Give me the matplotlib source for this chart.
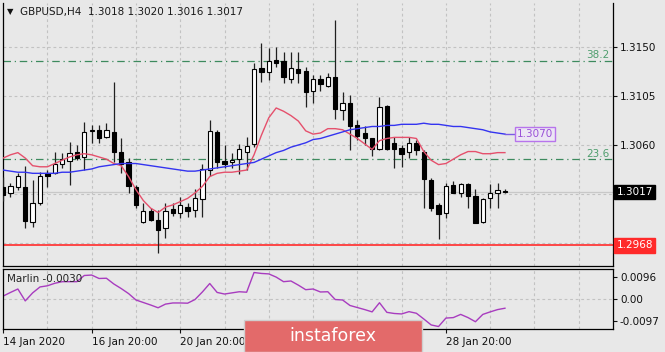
import matplotlib
matplotlib.use("Agg")
import matplotlib.pyplot as plt
import matplotlib.transforms as mtransforms
from matplotlib.patches import Rectangle

# GBPUSD H4 candles
opens = [1.3021, 1.3016, 1.3021, 1.3021, 1.2989, 1.3007, 1.3034, 1.3034, 1.3043, 1.3045,
         1.3054, 1.3049, 1.3073, 1.3074, 1.3067, 1.3072, 1.3054, 1.3044, 1.3021, 1.2989,
         1.2999, 1.2991, 1.2984, 1.3001, 1.2998, 1.3003, 1.3000, 1.3010, 1.3037, 1.3072,
         1.3045, 1.3044, 1.3047, 1.3054, 1.3061, 1.3131, 1.3127, 1.3138, 1.3137, 1.3121,
         1.3130, 1.3128, 1.3110, 1.3121, 1.3114, 1.3122, 1.3092, 1.3099, 1.3078, 1.3071,
         1.3066, 1.3056, 1.3096, 1.3062, 1.3057, 1.3054, 1.3062, 1.3054, 1.3028, 1.3005,
         1.2998, 1.3023, 1.3016, 1.3024, 1.3013, 1.2989, 1.3011, 1.3016, 1.3018]
highs = [1.3031, 1.3025, 1.3034, 1.3041, 1.3028, 1.3035, 1.3037, 1.3054, 1.3053, 1.3063,
         1.3060, 1.3081, 1.3078, 1.3078, 1.3080, 1.3118, 1.3066, 1.3048, 1.3023, 1.3007,
         1.3002, 1.3000, 1.3007, 1.3007, 1.3012, 1.3007, 1.3020, 1.3043, 1.3083, 1.3074,
         1.3060, 1.3053, 1.3061, 1.3067, 1.3135, 1.3154, 1.3149, 1.3150, 1.3145, 1.3145,
         1.3145, 1.3132, 1.3124, 1.3124, 1.3126, 1.3175, 1.3109, 1.3106, 1.3083, 1.3077,
         1.3066, 1.3104, 1.3097, 1.3067, 1.3060, 1.3067, 1.3065, 1.3055, 1.3030, 1.3007,
         1.3025, 1.3027, 1.3025, 1.3025, 1.3020, 1.3011, 1.3024, 1.3025, 1.3020]
lows = [1.3009, 1.3012, 1.3019, 1.2984, 1.2985, 1.3005, 1.3021, 1.3033, 1.3039, 1.3023,
        1.3046, 1.3037, 1.3062, 1.3062, 1.3066, 1.3044, 1.3034, 1.3016, 1.3002, 1.2988,
        1.2990, 1.2961, 1.2975, 1.2995, 1.2993, 1.2994, 1.2994, 1.2994, 1.3032, 1.3039,
        1.3039, 1.3039, 1.3033, 1.3037, 1.3058, 1.3118, 1.3120, 1.3132, 1.3117, 1.3117,
        1.3117, 1.3095, 1.3099, 1.3110, 1.3113, 1.3084, 1.3083, 1.3055, 1.3065, 1.3060,
        1.3050, 1.3055, 1.3055, 1.3039, 1.3040, 1.3048, 1.3051, 1.3002, 1.2999, 1.2974,
        1.2993, 1.3016, 1.3012, 1.3002, 1.2988, 1.2988, 1.3002, 1.3002, 1.3016]
closes = [1.3014, 1.3022, 1.3032, 1.2990, 1.3007, 1.3032, 1.3032, 1.3043, 1.3047, 1.3053,
          1.3048, 1.3072, 1.3074, 1.3066, 1.3074, 1.3054, 1.3043, 1.3022, 1.3005, 1.2999,
          1.2991, 1.2982, 1.2999, 1.2998, 1.3005, 1.2999, 1.3011, 1.3038, 1.3073, 1.3044,
          1.3043, 1.3046, 1.3056, 1.3059, 1.3130, 1.3127, 1.3137, 1.3135, 1.3122, 1.3131,
          1.3126, 1.3109, 1.3121, 1.3116, 1.3122, 1.3093, 1.3099, 1.3077, 1.3068, 1.3066,
          1.3056, 1.3095, 1.3056, 1.3056, 1.3052, 1.3062, 1.3055, 1.3029, 1.3002, 1.2997,
          1.3022, 1.3016, 1.3024, 1.3013, 1.2988, 1.3010, 1.3016, 1.3019, 1.3017]

# moving averages
ma_red = [1.3048, 1.3051, 1.3053, 1.3048, 1.3041, 1.3040, 1.3040, 1.3043, 1.3046, 1.3049,
          1.3051, 1.3052, 1.3051, 1.3049, 1.3047, 1.3043, 1.3041, 1.3031, 1.3019, 1.3009,
          1.3002, 1.2998, 1.3003, 1.3005, 1.3008, 1.3011, 1.3016, 1.3022, 1.3031, 1.3034,
          1.3035, 1.3035, 1.3036, 1.3037, 1.3051, 1.3069, 1.3085, 1.3094, 1.3091, 1.3087,
          1.3082, 1.3073, 1.3070, 1.3071, 1.3075, 1.3075, 1.3074, 1.3070, 1.3066, 1.3061,
          1.3056, 1.3064, 1.3066, 1.3067, 1.3067, 1.3067, 1.3066, 1.3054, 1.3046, 1.3042,
          1.3043, 1.3047, 1.3051, 1.3054, 1.3054, 1.3052, 1.3052, 1.3053, 1.3053]
ma_blue = [1.3037, 1.3036, 1.3035, 1.3035, 1.3034, 1.3034, 1.3034, 1.3034, 1.3035, 1.3035,
           1.3036, 1.3037, 1.3038, 1.3040, 1.3041, 1.3042, 1.3043, 1.3043, 1.3043, 1.3042,
           1.3041, 1.3040, 1.3039, 1.3038, 1.3037, 1.3036, 1.3036, 1.3037, 1.3038, 1.3039,
           1.3040, 1.3041, 1.3042, 1.3043, 1.3044, 1.3047, 1.3050, 1.3053, 1.3055, 1.3058,
           1.3060, 1.3062, 1.3065, 1.3066, 1.3068, 1.3070, 1.3072, 1.3074, 1.3075, 1.3076,
           1.3077, 1.3077, 1.3078, 1.3078, 1.3079, 1.3079, 1.3079, 1.3080, 1.3079, 1.3079,
           1.3078, 1.3077, 1.3077, 1.3076, 1.3075, 1.3074, 1.3072, 1.3071, 1.3070]

# Marlin oscillator
marlin = [0.0014, 0.0030, 0.0045, -0.0007, 0.0028, 0.0054, 0.0059, 0.0070, 0.0077, 0.0077,
          0.0077, 0.0104, 0.0106, 0.0091, 0.0092, 0.0067, 0.0047, 0.0025, -0.0003, -0.0014,
          -0.0025, -0.0037, -0.0021, -0.0016, -0.0016, -0.0017, -0.0001, 0.0032, 0.0069, 0.0030,
          0.0023, 0.0028, 0.0033, 0.0031, 0.0117, 0.0113, 0.0111, 0.0097, 0.0077, 0.0080,
          0.0062, 0.0042, 0.0045, 0.0032, 0.0033, -0.0001, -0.0003, -0.0027, -0.0036, -0.0045,
          -0.0055, -0.0015, -0.0057, -0.0062, -0.0064, -0.0054, -0.0061, -0.0086, -0.0112, -0.0119,
          -0.0082, -0.0080, -0.0066, -0.0080, -0.0098, -0.0066, -0.0055, -0.0045, -0.0039]

date_ticks = [0, 12, 24, 60]
date_labels = ['14 Jan 2020', '16 Jan 20:00', '20 Jan 20:00', '28 Jan 20:00']
price_ticks = [1.3150, 1.3105, 1.3060]
grid_prices = [1.3150, 1.3105, 1.3060, 1.3015, 1.2970]
marlin_ticks = [0.0096, 0.0, -0.0097]
marlin_labels = ['0.0096', '0.00', '-0.0097']
fib_levels = [1.3137, 1.3047]
fib_names = ['38.2', '23.6']
support = 1.2968
last_price = 1.3017
blue_last = 1.3070

BG = '#e8e8e8'
W, H = 665, 352
FS = 7.5

fig = plt.figure(figsize=(W / 100, H / 100), dpi=100, facecolor=BG)
ax = fig.add_axes([3 / W, (H - 266) / H, 610 / W, 263 / H], facecolor=BG)
ax2 = fig.add_axes([3 / W, (H - 329) / H, 610 / W, 60 / H], facecolor=BG)

xlim = (-0.014, 82.64)
n = len(closes)
xs = list(range(n))

# grid
for a in (ax, ax2):
    for gx in range(6, 83, 6):
        a.axvline(gx, color='#c2c2c2', lw=0.8, ls=(0, (2.5, 2.5)), zorder=0)
for gp in grid_prices:
    ax.axhline(gp, color='#c2c2c2', lw=0.8, ls=(0, (2.5, 2.5)), zorder=0)
ax2.axhline(0, color='#c2c2c2', lw=0.8, ls=(0, (2.5, 2.5)), zorder=0)

# bid line, support and fib levels
ax.axhline(last_price, color='#c8c8c8', lw=0.9, zorder=1)
ax.axhline(support, color='#ff3a3a', lw=1.3, zorder=2)
for lvl, name in zip(fib_levels, fib_names):
    ax.axhline(lvl, color='#3d8a5e', lw=0.9, ls=(0, (6, 3, 1, 3)), zorder=2)
    ax.text(82.2, lvl + 0.00006, name, ha='right', va='bottom', color='#4f9e6e', fontsize=FS)

# candles
for i in xs:
    o, h, l, c = opens[i], highs[i], lows[i], closes[i]
    ax.vlines(i, l, h, color='#202020', lw=0.9, zorder=3)
    up = c >= o
    ax.bar(i, max(abs(c - o), 0.00002), bottom=min(o, c), width=0.58,
           color='white' if up else 'black', edgecolor='black', lw=0.8, zorder=4)

# moving averages
ax.plot(xs, ma_red, color='#e5506c', lw=1.0, zorder=5)
ax.plot(xs, ma_blue, color='#3434f0', lw=1.0, zorder=5)
ax.plot([n - 1, 69.6], [ma_blue[-1], blue_last], color='#7a5ae6', lw=1.0, zorder=5)
ax.text(69.6, blue_last, '1.3070', ha='left', va='center', color='#9a50d8', fontsize=FS,
        bbox=dict(boxstyle='square,pad=0.2', fc='#ece6f4', ec='#b774ec', lw=1.0), zorder=6)

ax.set_xlim(*xlim)
ax.set_ylim(1.294892, 1.319036)
ax.tick_params(axis='x', length=0, labelbottom=False)
ax.yaxis.tick_right()
ax.set_yticks(price_ticks)
ax.set_yticklabels(['%.4f' % p for p in price_ticks])
ax.tick_params(axis='y', length=3, width=0.8, pad=2, labelsize=FS, colors='#111111')

trans = mtransforms.blended_transform_factory(ax.transAxes, ax.transData)
ax.text(1.006, last_price, '%.4f' % last_price, transform=trans, ha='left', va='center',
        color='white', fontsize=FS, clip_on=False,
        bbox=dict(boxstyle='square,pad=0.22', fc='black', ec='black'))
ax.text(1.006, support, '%.4f' % support, transform=trans, ha='left', va='center',
        color='white', fontsize=FS, clip_on=False,
        bbox=dict(boxstyle='square,pad=0.22', fc='#ff2a2a', ec='#ff2a2a'))

# indicator window
ax2.plot(xs, marlin, color='#a83cbf', lw=1.0)
ax2.set_xlim(*xlim)
ax2.set_ylim(-0.012979, 0.013241)
ax2.yaxis.tick_right()
ax2.set_yticks(marlin_ticks)
ax2.set_yticklabels(marlin_labels)
ax2.tick_params(axis='y', length=3, width=0.8, pad=2, labelsize=FS, colors='#111111')
ax2.set_xticks(date_ticks)
ax2.set_xticklabels(date_labels, ha='left')
ax2.tick_params(axis='x', length=3, width=0.8, pad=3, labelsize=FS, colors='#111111')
ax2.text(0.007, 0.84, 'Marlin -0.0030', transform=ax2.transAxes, ha='left', va='center',
         fontsize=FS, color='#222222')

for a in (ax, ax2):
    for s in a.spines.values():
        s.set_color('black')
        s.set_linewidth(0.9)
ax.spines['top'].set_visible(False)

# header
fig.text(7 / W, 1 - 12 / H, '\u25bc', fontsize=6, va='center', color='#111111')
fig.text(20 / W, 1 - 12 / H, 'GBPUSD,H4  1.3018 1.3020 1.3016 1.3017', fontsize=FS,
         va='center', color='#1a1a1a')

# watermark
fig.add_artist(Rectangle((244 / W, 0), 178 / W, 32 / H, transform=fig.transFigure,
                         fc='#e36a6a', ec='#cfcfcf', lw=1.0, zorder=10))
fig.text(333 / W, 16 / H, 'instaforex', fontsize=12.5, color='white', ha='center',
         va='center', zorder=11)

fig.savefig('out.png', dpi=100, facecolor=BG)
